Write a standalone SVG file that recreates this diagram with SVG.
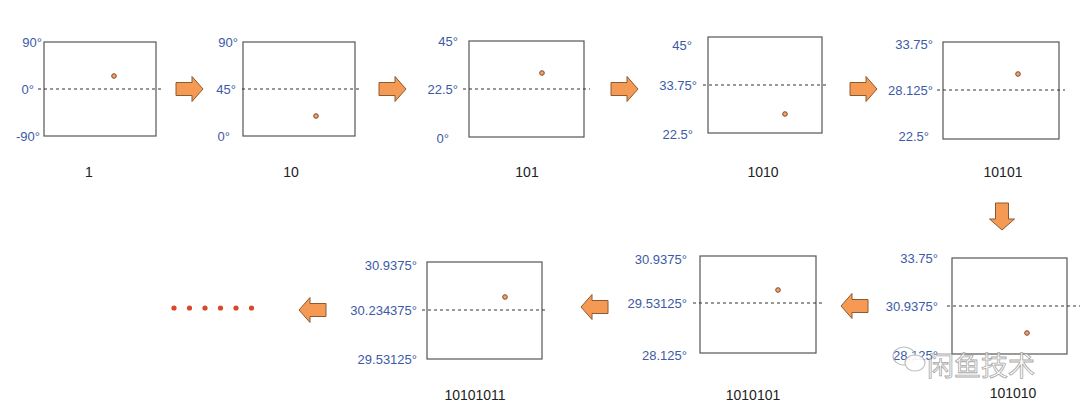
<svg xmlns="http://www.w3.org/2000/svg" width="1080" height="409" viewBox="0 0 1080 409">
<defs>
<style>
.box{fill:#fff;stroke:#555;stroke-width:1.2}
.mid{stroke:#333;stroke-width:1;stroke-dasharray:3,3}
.pt{fill:#f4a36a;stroke:#7a4a2a;stroke-width:1}
.lab{font-family:"Liberation Sans",Arial,sans-serif;font-size:13px;fill:#3c5aa6;text-anchor:end}
.cap{font-family:"Liberation Sans",Arial,sans-serif;font-size:14px;fill:#222;text-anchor:middle}
.arr{fill:#f59a55;stroke:#8a5a30;stroke-width:1}
.dot{fill:#d9472c}
.wm{font-family:"Noto Sans CJK SC",sans-serif;font-size:27px;fill:#fff;stroke:#999;stroke-width:0.8;opacity:0.85}
</style>
<path id="ar" d="M0,-6.5 H16 V-12.5 L27,0 L16,12.5 V6.5 H0 Z"/>
</defs>
<g id="connectors">
<use href="#ar" class="arr" transform="translate(176,89)"/>
<use href="#ar" class="arr" transform="translate(379,89)"/>
<use href="#ar" class="arr" transform="translate(611,89)"/>
<use href="#ar" class="arr" transform="translate(850,89)"/>
<use href="#ar" class="arr" transform="translate(1002,203) rotate(90)"/>
<use href="#ar" class="arr" transform="translate(868,306) rotate(180)"/>
<use href="#ar" class="arr" transform="translate(608,307) rotate(180)"/>
<use href="#ar" class="arr" transform="translate(326,310) rotate(180)"/>
</g>
<g id="n1">
<rect class="box" x="44" y="42" width="112" height="94"/>
<line class="mid" x1="38" y1="89" x2="163" y2="89"/>
<circle class="pt" cx="114" cy="76" r="2.3"/>
<text class="lab" x="42" y="47">90°</text>
<text class="lab" x="34" y="94">0°</text>
<text class="lab" x="40" y="141">-90°</text>
<text class="cap" x="89" y="177">1</text>
</g>
<g id="n2">
<rect class="box" x="243" y="42" width="112" height="94"/>
<line class="mid" x1="242" y1="89" x2="362" y2="89"/>
<circle class="pt" cx="316" cy="116" r="2.3"/>
<text class="lab" x="238" y="47">90°</text>
<text class="lab" x="236" y="94">45°</text>
<text class="lab" x="230" y="141">0°</text>
<text class="cap" x="291" y="177">10</text>
</g>
<g id="n3">
<rect class="box" x="469" y="41" width="115" height="96"/>
<line class="mid" x1="463" y1="89" x2="590" y2="89"/>
<circle class="pt" cx="542" cy="73" r="2.3"/>
<text class="lab" x="458" y="46">45°</text>
<text class="lab" x="458" y="94">22.5°</text>
<text class="lab" x="449" y="143">0°</text>
<text class="cap" x="527" y="177">101</text>
</g>
<g id="n4">
<rect class="box" x="708" y="37" width="114" height="96"/>
<line class="mid" x1="703" y1="85" x2="829" y2="85"/>
<circle class="pt" cx="785" cy="114" r="2.3"/>
<text class="lab" x="692" y="50">45°</text>
<text class="lab" x="697" y="90">33.75°</text>
<text class="lab" x="693" y="139">22.5°</text>
<text class="cap" x="763" y="177">1010</text>
</g>
<g id="n5">
<rect class="box" x="943" y="42" width="116" height="97"/>
<line class="mid" x1="937" y1="90" x2="1065" y2="90"/>
<circle class="pt" cx="1018" cy="74" r="2.3"/>
<text class="lab" x="933" y="49">33.75°</text>
<text class="lab" x="933" y="95">28.125°</text>
<text class="lab" x="929" y="141">22.5°</text>
<text class="cap" x="1003" y="177">10101</text>
</g>
<g id="n6">
<rect class="box" x="952" y="258" width="115" height="96"/>
<line class="mid" x1="947" y1="306" x2="1080" y2="306"/>
<circle class="pt" cx="1027" cy="333" r="2.3"/>
<text class="lab" x="938" y="263">33.75°</text>
<text class="lab" x="938" y="311">30.9375°</text>
<text class="lab" x="938" y="360">28.125°</text>
<text class="cap" x="1013" y="398">101010</text>
</g>
<g id="n7">
<rect class="box" x="700" y="256" width="116" height="97"/>
<line class="mid" x1="693" y1="303" x2="822" y2="303"/>
<circle class="pt" cx="778" cy="290" r="2.3"/>
<text class="lab" x="687" y="264">30.9375°</text>
<text class="lab" x="687" y="308">29.53125°</text>
<text class="lab" x="687" y="360">28.125°</text>
<text class="cap" x="753" y="400">1010101</text>
</g>
<g id="n8">
<rect class="box" x="427" y="262" width="115" height="97"/>
<line class="mid" x1="422" y1="310" x2="548" y2="310"/>
<circle class="pt" cx="505" cy="297" r="2.3"/>
<text class="lab" x="417" y="270">30.9375°</text>
<text class="lab" x="417" y="315">30.234375°</text>
<text class="lab" x="417" y="364">29.53125°</text>
<text class="cap" x="475" y="400">10101011</text>
</g>
<g id="ellipsis">
<circle class="dot" cx="174" cy="308" r="2.6"/>
<circle class="dot" cx="189.5" cy="308" r="2.6"/>
<circle class="dot" cx="205" cy="308" r="2.6"/>
<circle class="dot" cx="220.5" cy="308" r="2.6"/>
<circle class="dot" cx="236" cy="308" r="2.6"/>
<circle class="dot" cx="251.5" cy="308" r="2.6"/>
</g>
<g id="watermark">
<ellipse cx="904" cy="356" rx="11" ry="9" fill="none" stroke="#bbb" stroke-width="1.2"/>
<ellipse cx="915" cy="363" rx="10" ry="8" fill="#fff" stroke="#bbb" stroke-width="1.2" opacity="0.9"/>
<text class="wm" x="927" y="376">闲鱼技术</text>
</g>
</svg>
